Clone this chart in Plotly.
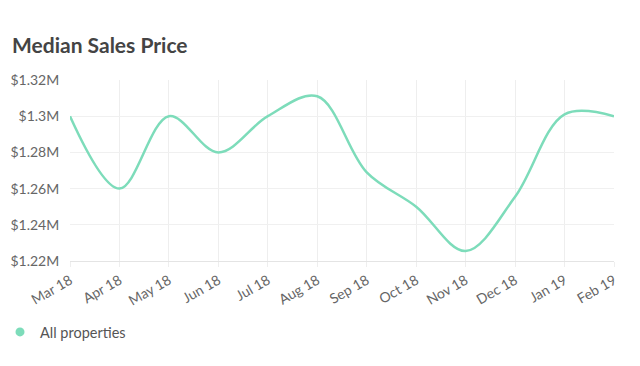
import plotly.graph_objects as go

months = ["Mar 18", "Apr 18", "May 18", "Jun 18", "Jul 18", "Aug 18",
          "Sep 18", "Oct 18", "Nov 18", "Dec 18", "Jan 19", "Feb 19"]
median_price = [1.300, 1.260, 1.300, 1.280, 1.300, 1.311,
                1.269, 1.250, 1.2255, 1.2555, 1.301, 1.300]
y_ticks = [1.22, 1.24, 1.26, 1.28, 1.30, 1.32]
y_tick_labels = ["$1.22M", "$1.24M", "$1.26M", "$1.28M", "$1.3M", "$1.32M"]

line_color = "#7ddcba"

fig = go.Figure()
fig.add_trace(go.Scatter(
    x=months, y=median_price, mode="lines",
    line=dict(color=line_color, width=2.5, shape="spline", smoothing=1.0),
    showlegend=False, hoverinfo="skip"))
fig.add_trace(go.Scatter(
    x=[months[0]], y=[None], mode="markers", name="All properties",
    marker=dict(color=line_color, size=9), showlegend=True))

fig.update_layout(
    width=640, height=366,
    margin=dict(l=62, r=34, t=72, b=113, autoexpand=False),
    paper_bgcolor="white", plot_bgcolor="white",
    font=dict(family="Lato, Open Sans, sans-serif", color="#666"),
    title=dict(text="<b>Median Sales Price</b>", x=4/640, xref="container", xanchor="left",
               y=1-38/366, yref="container", yanchor="middle", pad=dict(l=0, t=0, b=0, r=0),
               font=dict(size=21, color="#444", family="Lato, Open Sans, sans-serif")),
    legend=dict(x=0.0, xref="container", xanchor="left", indentation=-8,
                y=1-324/366, yref="container", yanchor="middle",
                font=dict(size=14.5, color="#555")),
    xaxis=dict(type="category", showgrid=True, gridcolor="#eeeeee", gridwidth=1,
               tickangle=-30, ticks="outside", ticklen=5, tickcolor="#eeeeee",
               tickfont=dict(size=14, color="#666"),
               showline=True, linecolor="#e4e4e4", linewidth=1,
               range=[0, 11], zeroline=False, fixedrange=True, automargin=False),
    yaxis=dict(range=[1.22, 1.32], tickvals=y_ticks, ticktext=y_tick_labels,
               showgrid=True, gridcolor="#f0f0f0", gridwidth=1,
               ticks="outside", ticklen=7, tickcolor="rgba(0,0,0,0)",
               tickfont=dict(size=14, color="#666"),
               zeroline=False, showline=False, fixedrange=True, automargin=False),
)

fig.write_html("out.html")
